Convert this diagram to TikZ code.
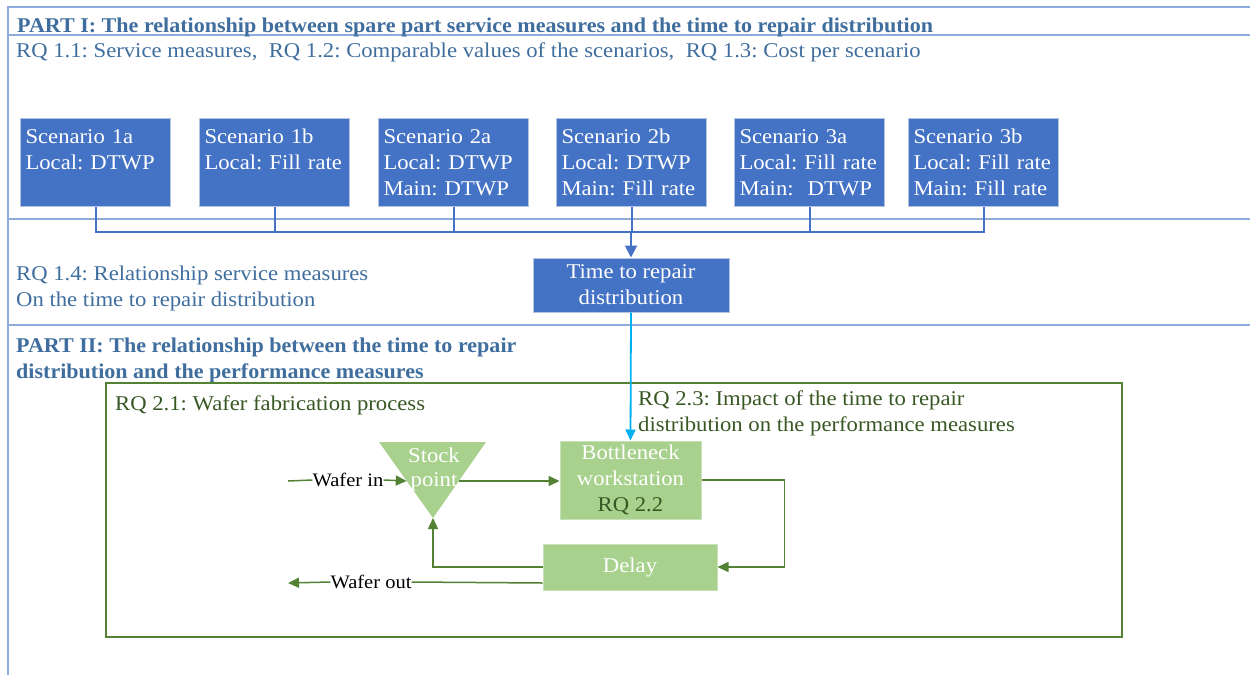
\documentclass[tikz,border=0pt]{standalone}
\usepackage{fontspec}
\setmainfont{Liberation Serif}[FakeStretch=1.08,BoldFeatures={FakeStretch=1.05}]
\usetikzlibrary{arrows.meta,calc}

\definecolor{framec}{HTML}{8FAADC}
\definecolor{headc}{HTML}{3F6E9E}
\definecolor{boxc}{HTML}{4472C4}
\definecolor{boxedge}{HTML}{B4C3E0}
\definecolor{arrowcyan}{HTML}{00B0F0}
\definecolor{gframe}{HTML}{548235}
\definecolor{gtext}{HTML}{385723}
\definecolor{gfill}{HTML}{A9D18E}
\definecolor{gedge}{HTML}{C9E1B8}

\begin{document}
\frenchspacing
\begin{tikzpicture}[x=1pt,y=-1pt,
  every node/.style={font=\fontsize{21}{26}\selectfont},
  frame/.style={draw=framec,line width=2pt},
  head/.style={text=headc,inner sep=0pt,anchor=base west},
  headb/.style={head,font=\fontsize{21}{26}\selectfont\bfseries},
  ghead/.style={text=gtext,inner sep=0pt,anchor=base west},
  scen/.style={draw=boxedge,line width=1pt,fill=boxc,text=white,anchor=north west,
    text width=140pt,inner xsep=5pt,inner ysep=5pt,text height=20pt,text depth=58pt,align=left},
  tbox/.style={draw=boxedge,line width=1pt,fill=boxc,text=white,align=center,
    minimum width=196pt,minimum height=54pt,inner sep=0pt},
  gbox/.style={draw=gedge,line width=1pt,fill=gfill,text=white,align=center,inner sep=0pt},
  wtext/.style={inner sep=0pt,text=black,font=\fontsize{19}{24}\selectfont},
  conn/.style={draw=boxc,line width=2pt},
  gline/.style={draw=gframe,line width=1.5pt},
  garrow/.style={gline,-{Triangle[length=11pt,width=10pt]}},
]
\useasboundingbox (0,0) rectangle (1250,675);

% section frame lines
\draw[frame] (8,675) -- (8,7) -- (1250,7);
\draw[frame] (8,35) -- (1250,35);
\draw[frame] (8,219) -- (1250,219);
\draw[frame] (8,325) -- (1250,325);

% part I headings
\node[headb] (p1) at (17,32) {PART I: The relationship between spare part service measures and the time to repair distribution};
\node[head] (rq11) at (16,57) {RQ 1.1: Service measures,\ \ RQ 1.2: Comparable values of the scenarios,\ \ RQ 1.3: Cost per scenario};

% scenario boxes
\node[scen] (s1a) at (20,118)  {Scenario 1a\\Local: DTWP};
\node[scen] (s1b) at (199,118) {Scenario 1b\\Local: Fill rate};
\node[scen] (s2a) at (378,118) {Scenario 2a\\Local: DTWP\\Main: DTWP};
\node[scen] (s2b) at (556,118) {Scenario 2b\\Local: DTWP\\Main: Fill rate};
\node[scen] (s3a) at (734,118) {Scenario 3a\\Local: Fill rate\\Main:\ \ DTWP};
\node[scen] (s3b) at (908,118) {Scenario 3b\\Local: Fill rate\\Main: Fill rate};

% time to repair distribution
\node[tbox] (tr) at (631,285) {Time to repair\\distribution};
\coordinate (bus) at (631,232);
\foreach \s in {s1a,s1b,s2a,s2b,s3a,s3b}
  \draw[conn] (\s.south) |- (bus);
\draw[conn,-{Triangle[length=12pt,width=12pt]}] (bus) -- (tr.north);

\node[head] (rq14a) at (16,280) {RQ 1.4: Relationship service measures};
\node[head] (rq14b) at (16,306) {On the time to repair distribution};

% part II headings
\node[headb] (p2a) at (16,352) {PART II: The relationship between the time to repair};
\node[headb] (p2b) at (16,378) {distribution and the performance measures};

% wafer fabrication process
\draw[draw=gframe,line width=2pt] (106,383) rectangle (1122,637);
\node[ghead] (rq21) at (115,410) {RQ 2.1: Wafer fabrication process};
\node[ghead] (rq23a) at (638,405) {RQ 2.3: Impact of the time to repair};
\node[ghead] (rq23b) at (638,431) {distribution on the performance measures};

% stock point
\coordinate (spL) at (379,442);
\coordinate (spR) at (486,442);
\coordinate (spA) at (433,518);
\fill[gfill] (spL) -- (spR) -- (spA) -- cycle;
\node[inner sep=0pt,text=white,align=center,font=\fontsize{21}{24}\selectfont] (sp) at (434,469) {Stock\\point};
\coordinate (spin) at ($(spL)!0.513!(spA)$);
\coordinate (spout) at ($(spR)!0.513!(spA)$);

\node[gbox,minimum width=141pt,minimum height=78pt,font=\fontsize{21}{26}\selectfont] (bn) at (630.5,480) {Bottleneck\\workstation\\\textcolor{gtext}{RQ 2.2}};
\node[gbox,minimum width=174pt,minimum height=46pt] (delay) at (630,567) {Delay};

\draw[draw=arrowcyan,line width=1.8pt,-{Triangle[length=11pt,width=10pt]}] (tr.south) -- (bn.north);

% flows
\coordinate (inS) at (288,481);
\coordinate (outE) at (288,583);
\node[wtext] (win) at (348,480) {Wafer in};
\node[wtext] (wout) at (371,582) {Wafer out};
\draw[gline] (inS) -- (win.west);
\draw[garrow] (win.east) -- (spin);
\draw[garrow] (spout) -- (spout -| bn.west);
\draw[garrow] (bn.east) -- ++(83,0) |- (delay.east);
\draw[garrow] (delay.west) -| (spA);
\draw[gline] ([yshift=-16pt]delay.west) -- (wout.east);
\draw[garrow] (wout.west) -- (outE);
\end{tikzpicture}
\end{document}
